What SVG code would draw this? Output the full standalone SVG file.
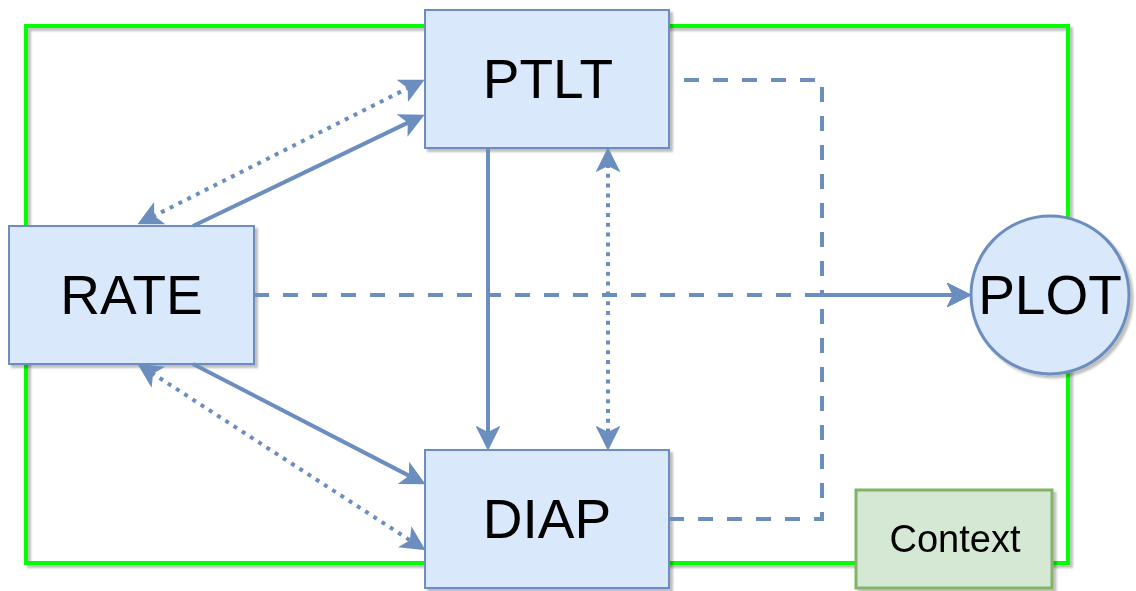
<svg xmlns="http://www.w3.org/2000/svg" width="1136" height="591" viewBox="0 0 1136 591">
  <style>
    .box{fill:#dae8fc;stroke:#6c8ebf;stroke-width:2}
    .circ{stroke-width:3}
    .ctx{fill:#d5e8d4;stroke:#82b366;stroke-width:3}
    .lbl{font-family:"Liberation Sans",Arial,sans-serif;font-size:55px;fill:#000;text-anchor:middle}
    .sm{font-size:38px}
    .e{fill:none;stroke:#6c8ebf;stroke-width:4}
    .dot{stroke-dasharray:4 5.8}
    .dash{stroke-dasharray:15 14}
  </style>
  <defs>
    <filter id="sh" x="-10%" y="-10%" width="120%" height="120%">
      <feDropShadow dx="3" dy="3" stdDeviation="0.8" flood-color="#000" flood-opacity="0.25"/>
    </filter>
    <marker id="ah" viewBox="0 0 24 24" markerUnits="userSpaceOnUse" markerWidth="25" markerHeight="25" refX="8" refY="12" orient="auto-start-reverse">
      <path d="M0,0 L24,12 L0,24 L6,12 Z" fill="#6c8ebf"/>
    </marker>
  </defs>
  <rect id="frame" x="26" y="26" width="1042" height="537" fill="none" stroke="#00ff00" stroke-width="4" filter="url(#sh)"/>
  <g id="PTLT" filter="url(#sh)">
    <rect class="box" x="425" y="10" width="244" height="138"/>
    <text class="lbl" x="548" y="98">PTLT</text>
  </g>
  <g id="RATE" filter="url(#sh)">
    <rect class="box" x="9" y="226" width="245" height="138"/>
    <text class="lbl" x="131.5" y="314">RATE</text>
  </g>
  <g id="DIAP" filter="url(#sh)">
    <rect class="box" x="425" y="450" width="244" height="138"/>
    <text class="lbl" x="547" y="538">DIAP</text>
  </g>
  <g id="PLOT" filter="url(#sh)">
    <circle class="box circ" cx="1050" cy="295" r="79"/>
    <text class="lbl" x="1050" y="314">PLOT</text>
  </g>
  <g id="Context" filter="url(#sh)">
    <rect class="ctx" x="856" y="490" width="196" height="98"/>
    <text class="lbl sm" x="955" y="552">Context</text>
  </g>
  <g id="connectors">
    <path class="e" d="M488,148 V434" marker-end="url(#ah)"/>
    <path class="e dot" d="M608,164 V434" marker-start="url(#ah)" marker-end="url(#ah)"/>
    <path class="e" d="M193,226 L409.6,121.9" marker-end="url(#ah)"/>
    <path class="e dot" d="M409.7,87.2 L152.3,216.8" marker-start="url(#ah)" marker-end="url(#ah)"/>
    <path class="e" d="M193,364 L410.8,476.6" marker-end="url(#ah)"/>
    <path class="e dot" d="M151.4,372.7 L411.6,541.3" marker-start="url(#ah)" marker-end="url(#ah)"/>
    <path class="e dash" d="M254,295 H955" marker-end="url(#ah)"/>
    <path class="e dash" d="M669,80 H822 V295 H955" stroke-dashoffset="-15" marker-end="url(#ah)"/>
    <path class="e dash" d="M669,519 H822 V295 H955" marker-end="url(#ah)"/>
  </g>
</svg>
